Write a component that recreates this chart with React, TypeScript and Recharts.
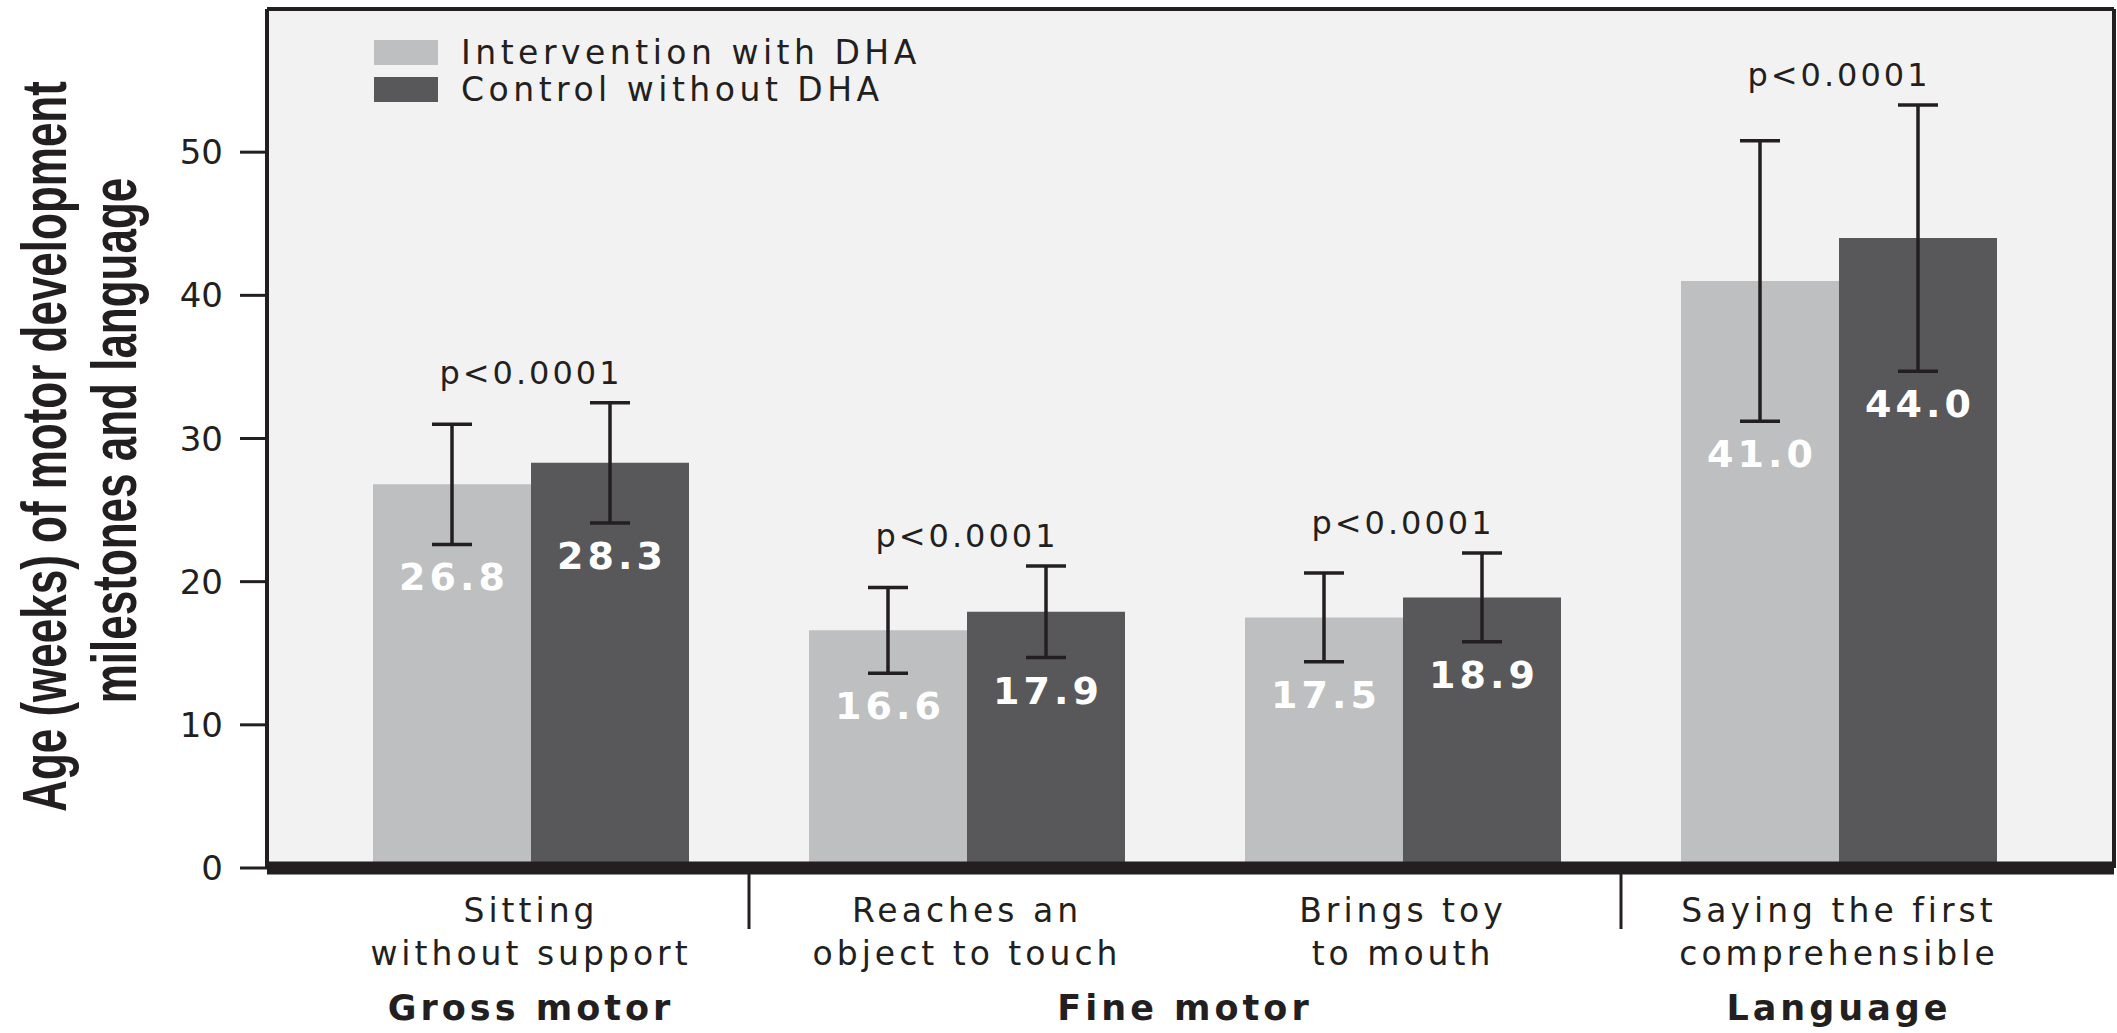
import { BarChart, Bar, XAxis, YAxis, CartesianGrid, Legend, ErrorBar, LabelList, ReferenceLine } from "recharts";

// milestone names, split over two lines as in the figure
const milestoneTop = ["Sitting", "Reaches an", "Brings toy", "Saying the first"];
const milestoneBottom = ["without support", "object to touch", "to mouth", "comprehensible"];

// domains under the milestones (from / to = milestone index)
const domainGroups = [
  { label: "Gross motor", from: 0, to: 0 },
  { label: "Fine motor", from: 1, to: 2 },
  { label: "Language", from: 3, to: 3 },
];

const seriesNames = ["Intervention with DHA", "Control without DHA"];

// mean age in weeks
const withDha = [26.8, 16.6, 17.5, 41.0];
const withoutDha = [28.3, 17.9, 18.9, 44.0];

// error bar half lengths (weeks)
const withDhaErr = [4.2, 3.0, 3.1, 9.8];
const withoutDhaErr = [4.2, 3.2, 3.1, 9.3];

const pValues = ["p<0.0001", "p<0.0001", "p<0.0001", "p<0.0001"];

const yTicks = [0, 10, 20, 30, 40, 50];

const INK = "#231f20";
const LIGHT = "#bebfc1";
const DARK = "#58585a";
const FONT = "'DejaVu Sans', sans-serif";

const data = milestoneTop.map((top, i) => ({
  name: top + " " + milestoneBottom[i],
  withDha: withDha[i],
  withoutDha: withoutDha[i],
  withDhaErr: withDhaErr[i],
  withoutDhaErr: withoutDhaErr[i],
}));

function MilestoneTick(props: any) {
  const { x, y, index } = props;
  const half = props.payload?.offset ?? 218;
  const group = domainGroups.find((g) => g.to === index);
  const startsGroup = domainGroups.some((g) => g.from === index) && index > 0;
  return (
    <g>
      <text x={x} y={y + 54} textAnchor="middle" fontFamily={FONT} fontSize={33} letterSpacing={4} fill={INK}>
        {milestoneTop[index]}
      </text>
      <text x={x} y={y + 97} textAnchor="middle" fontFamily={FONT} fontSize={33} letterSpacing={4} fill={INK}>
        {milestoneBottom[index]}
      </text>
      {group && (
        <text
          x={x - (group.to - group.from) * half}
          y={y + 152}
          textAnchor="middle"
          fontFamily={FONT}
          fontWeight="bold"
          fontSize={35}
          letterSpacing={4}
          fill={INK}
        >
          {group.label}
        </text>
      )}
      {startsGroup && <line x1={x - half} x2={x - half} y1={y + 6} y2={y + 61} stroke={INK} strokeWidth={3} />}
    </g>
  );
}

function AxisTitle(props: any) {
  const vb = props.viewBox || { y: 9, height: 859 };
  const cy = vb.y + vb.height / 2 + 8;
  const common = {
    textAnchor: "middle" as const,
    dominantBaseline: "central" as const,
    fontFamily: "'Liberation Sans', Arial, sans-serif",
    fontWeight: "bold",
    fontSize: 44,
    fill: INK,
  };
  return (
    <g>
      <text transform={`translate(44, ${cy}) rotate(-90) scale(1, 1.42)`} {...common}>
        Age (weeks) of motor development
      </text>
      <text transform={`translate(114, ${cy - 6}) rotate(-90) scale(1, 1.42)`} {...common}>
        milestones and language
      </text>
    </g>
  );
}

function LegendBox(props: any) {
  const items = [...(props.payload || [])].sort(
    (a: any, b: any) => seriesNames.indexOf(a.value) - seriesNames.indexOf(b.value)
  );
  return (
    <svg width={720} height={84} style={{ overflow: "visible" }}>
      {items.map((item: any, i: number) => (
        <g key={item.value}>
          <rect x={0} y={i * 37 + 8} width={64} height={25} fill={item.color} />
          <text x={87} y={i * 37 + 32} fontFamily={FONT} fontSize={33} letterSpacing={4.5} fill={INK}>
            {item.value}
          </text>
        </g>
      ))}
    </svg>
  );
}

// value inside the bar, just under the lower whisker
function makeValueLabel(errs: number[]) {
  return (props: any) => {
    const { x, y, width, height, value, index } = props;
    const perUnit = height / value;
    const low = y + errs[index] * perUnit;
    return (
      <text
        x={x + width / 2 + 2}
        y={low + 46}
        textAnchor="middle"
        fontFamily={FONT}
        fontWeight="bold"
        fontSize={38}
        letterSpacing={4}
        fill="#ffffff"
      >
        {value.toFixed(1)}
      </text>
    );
  };
}

// p value above the taller whisker, centred on the pair
function PLabel(props: any) {
  const { x, y, height, value, index } = props;
  const perUnit = height / value;
  const top = y - withoutDhaErr[index] * perUnit;
  return (
    <text x={x} y={top - 19} textAnchor="middle" fontFamily={FONT} fontSize={32} letterSpacing={3} fill={INK}>
      {pValues[index]}
    </text>
  );
}

export default function App() {
  return (
    <div style={{ position: "absolute", left: 0, top: 0 }}>
      <BarChart
        width={2117}
        height={1033}
        data={data}
        margin={{ top: 9, right: 0, left: 0, bottom: 0 }}
        barGap={0}
      >
        <CartesianGrid horizontal={false} vertical={false} fill="#f2f2f2" />
        <XAxis
          dataKey="name"
          height={165}
          padding={{ left: 46, right: 57 }}
          tickSize={0}
          tickMargin={0}
          tickLine={false}
          axisLine={{ stroke: INK, strokeWidth: 13 }}
          tick={<MilestoneTick />}
          interval={0}
        />
        <YAxis
          width={267}
          domain={[0, 60]}
          ticks={yTicks}
          tickSize={27}
          tickMargin={17}
          tickLine={{ stroke: INK, strokeWidth: 3 }}
          axisLine={{ stroke: INK, strokeWidth: 4 }}
          tick={{ fontFamily: FONT, fontSize: 34, fill: INK }}
          label={<AxisTitle />}
        />
        <YAxis
          yAxisId="frame"
          orientation="right"
          width={3}
          domain={[0, 60]}
          tick={false}
          tickLine={false}
          axisLine={{ stroke: INK, strokeWidth: 4 }}
        />
        <ReferenceLine y={60} stroke={INK} strokeWidth={4} />
        <Legend
          layout="vertical"
          align="center"
          verticalAlign="middle"
          wrapperStyle={{ left: 374, top: 32, width: 720 }}
          content={<LegendBox />}
        />
        <Bar dataKey="withDha" name={seriesNames[0]} fill={LIGHT} barSize={158} isAnimationActive={false}>
          <ErrorBar dataKey="withDhaErr" direction="y" width={20} stroke={INK} strokeWidth={3.5} />
          <LabelList dataKey="withDha" content={makeValueLabel(withDhaErr)} />
        </Bar>
        <Bar dataKey="withoutDha" name={seriesNames[1]} fill={DARK} barSize={158} isAnimationActive={false}>
          <ErrorBar dataKey="withoutDhaErr" direction="y" width={20} stroke={INK} strokeWidth={3.5} />
          <LabelList dataKey="withoutDha" content={makeValueLabel(withoutDhaErr)} />
          <LabelList dataKey="withoutDha" content={PLabel} />
        </Bar>
      </BarChart>
    </div>
  );
}
